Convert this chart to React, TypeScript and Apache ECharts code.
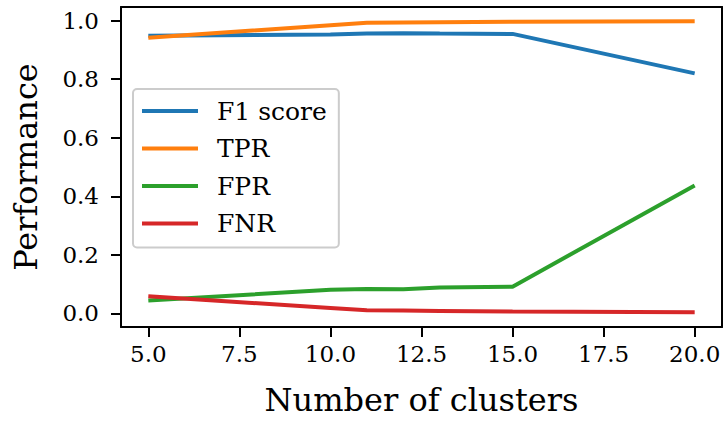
import React, { useEffect, useRef } from "react";
import * as echarts from "echarts";

// Number of clusters evaluated
const clusters = [5, 10, 11, 12, 13, 15, 20];

// Performance metrics per cluster count
const f1Score = [0.949, 0.953, 0.956, 0.957, 0.956, 0.955, 0.82];
const tpr = [0.942, 0.985, 0.993, 0.994, 0.995, 0.997, 0.998];
const fpr = [0.044, 0.08, 0.083, 0.082, 0.088, 0.091, 0.437];
const fnr = [0.058, 0.018, 0.01, 0.009, 0.008, 0.006, 0.003];

const xTicks = [5, 7.5, 10, 12.5, 15, 17.5, 20];
const yTicks = [0, 0.2, 0.4, 0.6, 0.8, 1.0];

const FONT = "DejaVu Serif";
const X_MIN = 4.25;
const X_MAX = 20.75;
const Y_MIN = -0.047;
const Y_MAX = 1.047;

const seriesDefs = [
  { name: "F1 score", values: f1Score, color: "#1f77b4" },
  { name: "TPR", values: tpr, color: "#ff7f0e" },
  { name: "FPR", values: fpr, color: "#2ca02c" },
  { name: "FNR", values: fnr, color: "#d62728" },
];

// Plain spine used for the top and right frame edges
const frameAxis = (extra: object) => ({
  type: "value",
  axisLine: { show: true, onZero: false, lineStyle: { color: "#000", width: 2 } },
  axisTick: { show: false },
  axisLabel: { show: false },
  splitLine: { show: false },
  ...extra,
});

export default function App() {
  const ref = useRef<HTMLDivElement>(null);

  useEffect(() => {
    if (!ref.current) return;
    const chart = echarts.init(ref.current, null, { renderer: "svg" });
    chart.setOption({
      animation: false,
      grid: { left: 121, right: 4, top: 7, bottom: 91, containLabel: false },
      legend: {
        orient: "vertical",
        left: 133,
        top: 89,
        icon: "rect",
        itemWidth: 56,
        itemHeight: 4,
        itemGap: 9.5,
        padding: [8, 12, 10, 9],
        backgroundColor: "rgba(255,255,255,0.8)",
        borderColor: "#cccccc",
        borderWidth: 2,
        borderRadius: 4,
        textStyle: {
          fontFamily: FONT,
          fontSize: 25,
          color: "#000",
          lineHeight: 28,
          padding: [0, 0, 0, 14],
        },
        data: seriesDefs.map((s) => s.name),
      },
      xAxis: [
        {
          type: "value",
          min: X_MIN,
          max: X_MAX,
          position: "bottom",
          name: "Number of clusters",
          nameLocation: "middle",
          nameGap: 57,
          nameTextStyle: { fontFamily: FONT, fontSize: 32, color: "#000", verticalAlign: "top" },
          axisLine: { show: true, onZero: false, lineStyle: { color: "#000", width: 2 } },
          axisTick: { show: true, inside: false, length: 10, lineStyle: { color: "#000", width: 2 }, customValues: xTicks },
          axisLabel: {
            fontFamily: FONT,
            fontSize: 23,
            color: "#000",
            margin: 15,
            customValues: xTicks,
            formatter: (v: number) => v.toFixed(1),
          },
          splitLine: { show: false },
        },
        frameAxis({ min: X_MIN, max: X_MAX, position: "top" }),
      ],
      yAxis: [
        {
          type: "value",
          min: Y_MIN,
          max: Y_MAX,
          position: "left",
          name: "Performance",
          nameLocation: "middle",
          nameGap: 79,
          nameTextStyle: { fontFamily: FONT, fontSize: 32, color: "#000" },
          axisLine: { show: true, onZero: false, lineStyle: { color: "#000", width: 2 } },
          axisTick: { show: true, inside: false, length: 10, lineStyle: { color: "#000", width: 2 }, customValues: yTicks },
          axisLabel: {
            fontFamily: FONT,
            fontSize: 23,
            color: "#000",
            margin: 22,
            customValues: yTicks,
            formatter: (v: number) => v.toFixed(1),
          },
          splitLine: { show: false },
        },
        frameAxis({ min: Y_MIN, max: Y_MAX, position: "right" }),
      ],
      series: seriesDefs.map((s) => ({
        name: s.name,
        type: "line",
        xAxisIndex: 0,
        yAxisIndex: 0,
        data: clusters.map((c, i) => [c, s.values[i]]),
        showSymbol: false,
        symbol: "none",
        color: s.color,
        lineStyle: { color: s.color, width: 4 },
      })),
    });
    return () => chart.dispose();
  }, []);

  return (
    <div
      ref={ref}
      style={{ position: "fixed", left: 0, top: 0, width: 726, height: 421, background: "#fff" }}
    />
  );
}
